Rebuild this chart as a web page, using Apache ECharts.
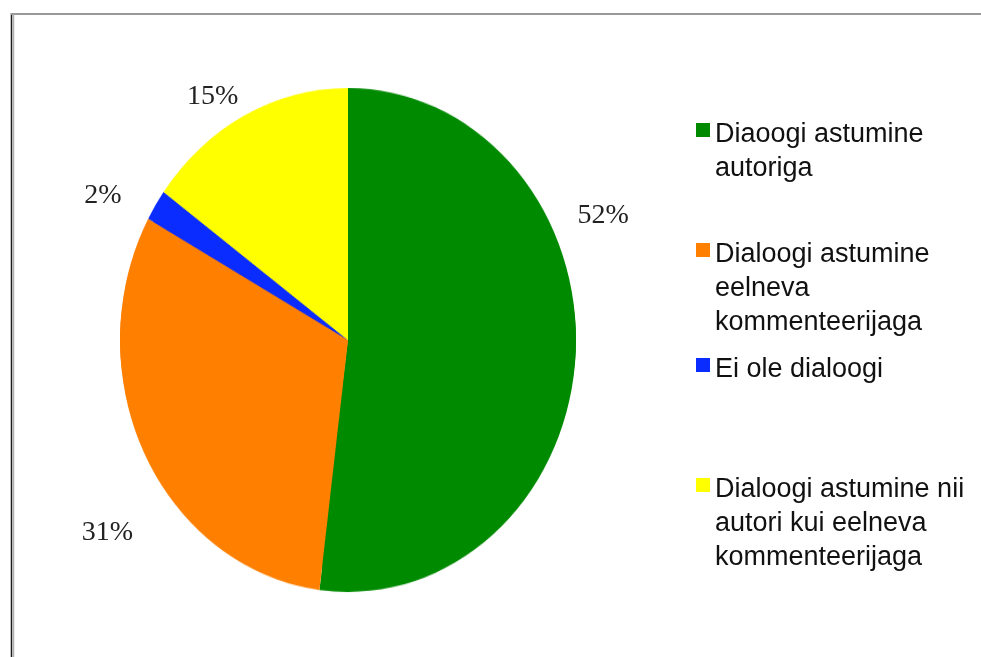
<!DOCTYPE html>
<html><head><meta charset="utf-8">
<script src="https://cdn.jsdelivr.net/npm/echarts@6/dist/echarts.min.js"></script>
<style>
html,body{margin:0;padding:0;background:#fff;}
#wrap{position:relative;width:981px;height:657px;overflow:hidden;background:#fff;}
#base,#pie{position:absolute;left:0;top:0;width:981px;height:657px;}
#pie{transform-origin:348px 340px;transform:scaleY(1.1053);}
</style></head><body>
<div id="wrap"><div id="base"></div><div id="pie"></div></div>
<script>
const categories = ['Diaoogi astumine autoriga', 'Dialoogi astumine eelneva kommenteerijaga', 'Ei ole dialoogi', 'Dialoogi astumine nii autori kui eelneva kommenteerijaga'];
const legendLines = [['Diaoogi astumine', 'autoriga'], ['Dialoogi astumine', 'eelneva', 'kommenteerijaga'], ['Ei ole dialoogi'], ['Dialoogi astumine nii', 'autori kui eelneva', 'kommenteerijaga']];
const values = [52, 31, 2, 15];
const colors = ['#008a00', '#ff8000', '#0a2cff', '#ffff00'];

// layout helpers (not data)
const PIE_CENTER = [348, 340];
const PIE_R = 228;
const legendIconCenters = [130, 250, 365, 485];
const LH = 34;
const ICON_DROP = 5; // text sits a little lower than the marker's centre
const labelNudge = [[-23, -140], [11, 80], [-12, -11], [8, -22]];

const pieData = categories.map((n, i) => ({ name: n, value: values[i], itemStyle: { color: colors[i] } }));

// square marker at the top of a taller (24px) box
const markerPath = 'path://M0,0L14,0L14,14L0,14Z M0,24';

const legends = categories.map((n, i) => {
  const lines = legendLines[i].length;
  const H = (2 * lines - 1) * LH;
  const blanks = new Array(lines - 1).fill('');
  return {
    data: [{ name: n, icon: markerPath }],
    left: 696,
    top: legendIconCenters[i] + ICON_DROP - H / 2,
    orient: 'vertical',
    padding: 0,
    itemWidth: 14,
    itemHeight: 24,
    selectedMode: false,
    formatter: () => blanks.concat(legendLines[i]).join('\n'),
    textStyle: {
      fontFamily: 'Liberation Sans, Arial, sans-serif',
      fontSize: 27,
      lineHeight: LH,
      color: '#111'
    }
  };
});

const base = echarts.init(document.getElementById('base'), null, { renderer: 'canvas' });
base.setOption({
  animation: false,
  backgroundColor: '#fff',
  legend: legends,
  graphic: [
    { type: 'line', shape: { x1: 11.5, y1: 13, x2: 11.5, y2: 657 }, style: { stroke: '#1a1a1a', lineWidth: 1.5 } },
    { type: 'line', shape: { x1: 13.5, y1: 15, x2: 13.5, y2: 657 }, style: { stroke: '#b0b0b0', lineWidth: 1.5 } },
    { type: 'line', shape: { x1: 11, y1: 14, x2: 981, y2: 14 }, style: { stroke: '#999', lineWidth: 2 } }
  ],
  series: [{
    type: 'pie',
    center: PIE_CENTER,
    radius: PIE_R,
    startAngle: 90,
    clockwise: true,
    avoidLabelOverlap: false,
    silent: true,
    data: pieData,
    label: {
      show: true,
      position: 'outside',
      formatter: p => Math.round(p.percent) + '%',
      fontFamily: 'Liberation Serif, Times New Roman, serif',
      fontSize: 28,
      color: '#222',
      distanceToLabelLine: 5
    },
    labelLine: { show: false, length: 20, length2: 0 },
    labelLayout: p => ({ dx: labelNudge[p.dataIndex][0], dy: labelNudge[p.dataIndex][1] })
  }]
});

const pie = echarts.init(document.getElementById('pie'), null, { renderer: 'canvas' });
pie.setOption({
  animation: false,
  backgroundColor: 'transparent',
  series: [{
    type: 'pie',
    center: PIE_CENTER,
    radius: PIE_R,
    startAngle: 90,
    clockwise: true,
    silent: true,
    data: pieData,
    label: { show: false },
    labelLine: { show: false },
    itemStyle: { borderWidth: 0 },
    emphasis: { disabled: true }
  }]
});
</script>
</body></html>
